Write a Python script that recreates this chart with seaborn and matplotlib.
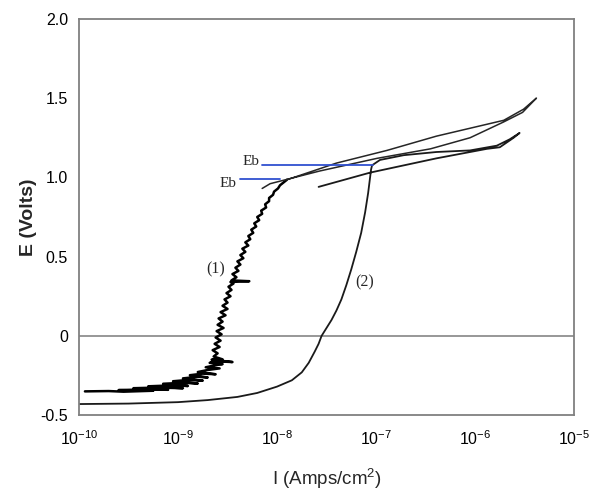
"""Potentiodynamic polarization curves (E vs log I) with breakdown potentials."""

import matplotlib

matplotlib.use("Agg")
import matplotlib.pyplot as plt  # noqa: E402
import matplotlib.ticker as mticker  # noqa: E402
import numpy as np  # noqa: E402
import pandas as pd  # noqa: E402
import seaborn as sns  # noqa: E402

# curve (1): noisy passive region, traced point by point (log10 I, E)
CURVE1_LOGI = [
    -9.94, -9.70, -9.55, -9.25, -9.60, -9.35, -9.10, -9.45, -9.20, -8.95,
    -9.30, -9.05, -8.90, -9.15, -8.95, -8.80, -9.05, -8.90, -8.75, -8.95,
    -8.80, -8.70, -8.88, -8.75, -8.62, -8.80, -8.70, -8.58, -8.72, -8.62,
    -8.55, -8.68, -8.62, -8.45, -8.66,
    -8.55, -8.64, -8.60, -8.65, -8.58, -8.63, -8.57, -8.62, -8.56, -8.61,
    -8.54, -8.60, -8.55, -8.59, -8.52, -8.57, -8.50, -8.55, -8.50, -8.53,
    -8.47, -8.51, -8.46, -8.49, -8.44, -8.47, -8.28, -8.46, -8.41, -8.45,
    -8.39, -8.42, -8.37, -8.40, -8.34, -8.37, -8.32, -8.35, -8.29, -8.32,
    -8.27, -8.29, -8.24, -8.26, -8.21, -8.23, -8.18, -8.20, -8.15, -8.16,
    -8.11, -8.12, -8.08, -8.08, -8.04, -8.03, -7.99, -7.97, -7.93, -7.90,
]
CURVE1_E = [
    -0.350, -0.348, -0.352, -0.346, -0.342, -0.338, -0.340, -0.330, -0.326, -0.330,
    -0.318, -0.312, -0.316, -0.302, -0.296, -0.300, -0.286, -0.278, -0.282, -0.268,
    -0.258, -0.262, -0.248, -0.238, -0.242, -0.228, -0.215, -0.205, -0.198, -0.185,
    -0.178, -0.170, -0.160, -0.165, -0.150,
    -0.148, -0.130, -0.110, -0.090, -0.070, -0.050, -0.030, -0.010, 0.010, 0.030,
    0.050, 0.070, 0.090, 0.110, 0.130, 0.150, 0.170, 0.190, 0.210, 0.230,
    0.250, 0.270, 0.290, 0.310, 0.330, 0.340, 0.345, 0.350, 0.370, 0.390,
    0.410, 0.430, 0.450, 0.470, 0.490, 0.510, 0.530, 0.550, 0.570, 0.590,
    0.610, 0.630, 0.650, 0.670, 0.690, 0.710, 0.730, 0.750, 0.770, 0.790,
    0.810, 0.830, 0.850, 0.870, 0.890, 0.910, 0.930, 0.950, 0.970, 0.985,
]
# curve (1) above breakdown: forward scan then reverse scan
CURVE1_LOOP_LOGI = [-7.90, -7.40, -6.89, -6.39, -6.05, -5.71, -5.51, -5.38,
                    -5.52, -5.71, -6.05, -6.45, -6.99, -7.57, -8.07, -8.15]
CURVE1_LOOP_E = [0.985, 1.09, 1.17, 1.26, 1.31, 1.36, 1.43, 1.50,
                 1.41, 1.35, 1.25, 1.18, 1.12, 1.04, 0.96, 0.93]

# curve (2): smooth cathodic-to-passive branch, then loop above breakdown
CURVE2_LOGI = [-10.0, -9.5, -9.0, -8.7, -8.4, -8.2, -8.0, -7.85, -7.75, -7.68,
               -7.62, -7.58, -7.55, -7.50, -7.45, -7.40, -7.35, -7.30, -7.25, -7.20,
               -7.15, -7.11, -7.08, -7.06, -7.05, -7.04,
               -6.96, -6.72, -6.39, -6.05, -5.78, -5.65, -5.55,
               -5.61, -5.75, -5.88, -6.39, -7.06, -7.58]
CURVE2_E = [-0.43, -0.427, -0.418, -0.405, -0.385, -0.36, -0.32, -0.28, -0.23, -0.17,
            -0.10, -0.05, 0.00, 0.05, 0.10, 0.16, 0.23, 0.32, 0.42, 0.53,
            0.65, 0.78, 0.90, 1.00, 1.05, 1.076,
            1.11, 1.14, 1.16, 1.17, 1.20, 1.24, 1.28,
            1.25, 1.19, 1.18, 1.12, 1.03, 0.94]

# breakdown potential markers (log10 I start, log10 I end, E)
EB_LOGI_START = [-8.37, -8.15]
EB_LOGI_END = [-7.97, -7.03]
EB_E = [0.99, 1.076]
EB_LABEL_LOGI = [-8.49, -8.26]
EB_LABEL_E = [0.96, 1.10]

CURVE_LABELS = ["(1)", "(2)"]
CURVE_LABEL_LOGI = [-8.62, -7.12]
CURVE_LABEL_E = [0.42, 0.34]

X_DECADES = [-10, -9, -8, -7, -6, -5]

sns.set_style("white")
plt.rcParams["font.family"] = ["Liberation Sans", "DejaVu Sans"]
plt.rcParams["mathtext.fontset"] = "custom"
plt.rcParams["mathtext.rm"] = "Liberation Sans"
plt.rcParams["mathtext.default"] = "regular"
plt.rcParams["axes.unicode_minus"] = False

c1 = pd.DataFrame({"I": 10.0 ** np.array(CURVE1_LOGI), "E": CURVE1_E})
c1_loop = pd.DataFrame({"I": 10.0 ** np.array(CURVE1_LOOP_LOGI), "E": CURVE1_LOOP_E})
c2 = pd.DataFrame({"I": 10.0 ** np.array(CURVE2_LOGI), "E": CURVE2_E})

fig = plt.figure(figsize=(6.03, 4.96), dpi=100)
ax = fig.add_axes([0.131, 0.163, 0.821, 0.799])

ax.axhline(0, color="#7a7a7a", linewidth=1.1, zorder=1)

sns.lineplot(data=c1, x="I", y="E", sort=False, estimator=None,
             color="black", linewidth=1.8, ax=ax)
sns.lineplot(data=c1_loop, x="I", y="E", sort=False, estimator=None,
             color="#262626", linewidth=1.1, ax=ax)
sns.lineplot(data=c2, x="I", y="E", sort=False, estimator=None,
             color="#1a1a1a", linewidth=1.3, ax=ax)

for start, end, e in zip(EB_LOGI_START, EB_LOGI_END, EB_E):
    ax.plot([10.0 ** start, 10.0 ** end], [e, e], color="#3050d0", linewidth=1.3, zorder=3)
for lx, ly in zip(EB_LABEL_LOGI, EB_LABEL_E):
    ax.text(10.0 ** lx, ly, "Eb", family=["Liberation Serif"], fontsize=11,
            ha="center", va="center")
for text, lx, ly in zip(CURVE_LABELS, CURVE_LABEL_LOGI, CURVE_LABEL_E):
    ax.text(10.0 ** lx, ly, text, family=["Liberation Serif"], fontsize=11.5,
            ha="center", va="center")

ax.set_xscale("log")
ax.set_xlim(1e-10, 1e-5)
ax.set_ylim(-0.5, 2.0)
ax.set_xticks([10.0 ** d for d in X_DECADES],
              [f"$10^{{{d}}}$" for d in X_DECADES])
ax.xaxis.set_minor_locator(mticker.LogLocator(base=10, subs=np.arange(2, 10), numticks=20))
ax.xaxis.set_minor_formatter(mticker.NullFormatter())
ax.yaxis.set_major_locator(mticker.MultipleLocator(0.5))
ax.yaxis.set_minor_locator(mticker.MultipleLocator(0.25))
ax.yaxis.set_major_formatter(
    mticker.FuncFormatter(lambda v, _: "0" if abs(v) < 1e-9 else f"{v:.1f}"))

for side in ["top", "right", "left", "bottom"]:
    ax.spines[side].set_color("#808080")
    ax.spines[side].set_linewidth(1.3)
ax.tick_params(which="both", direction="in", colors="#808080", labelcolor="black",
               labelsize=11.5)
ax.tick_params(axis="y", which="major", length=5, pad=8)
ax.tick_params(axis="y", which="minor", length=4)
ax.tick_params(axis="x", which="major", length=6, pad=10)
ax.tick_params(axis="x", which="minor", length=3.5)

ax.set_xlabel("I (Amps/cm$^2$)", fontsize=13.5, labelpad=14)
ax.set_ylabel("E (Volts)", fontsize=14, fontweight="bold", labelpad=2)

fig.savefig("out.png", dpi=100)
